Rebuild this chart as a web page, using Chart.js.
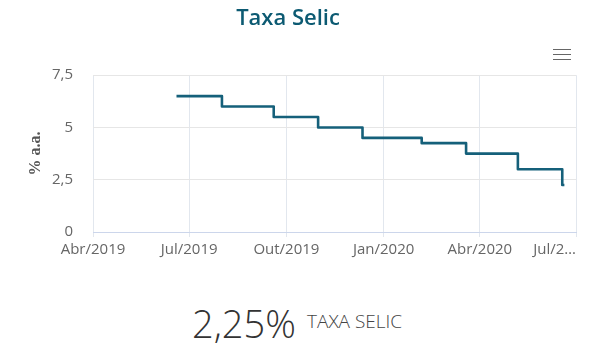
<!DOCTYPE html>
<html>
<head>
<meta charset="utf-8">
<script src="https://cdn.jsdelivr.net/npm/chart.js@4/dist/chart.umd.min.js"></script>
<style>
  html, body { margin: 0; padding: 0; background: #ffffff; }
  #wrap { position: relative; width: 598px; height: 357px; overflow: hidden; font-family: "Open Sans", sans-serif; }
  #c { position: absolute; left: 0; top: 0; }
  .menu { position: absolute; left: 553px; width: 18px; height: 1.4px; background: #666; }
  #big { position: absolute; left: 192px; top: 299px; font-size: 38px; font-weight: 300; color: #333; line-height: 48px; white-space: nowrap; }
  #small { position: absolute; left: 307px; top: 309px; font-size: 19px; font-weight: 300; color: #444; line-height: 24px; white-space: nowrap; }
</style>
</head>
<body>
<div id="wrap">
  <canvas id="c" width="598" height="266"></canvas>
  <div class="menu" style="top:48.5px"></div>
  <div class="menu" style="top:53.8px"></div>
  <div class="menu" style="top:59.1px"></div>
  <div id="big">2,25%</div>
  <div id="small">TAXA SELIC</div>
</div>
<script>
// ---- data ----
const changeDates = ['2019-06-19','2019-08-01','2019-09-19','2019-10-31','2019-12-12','2020-02-06','2020-03-19','2020-05-07','2020-06-18','2020-06-20'];
const selicRates  = [6.5, 6.0, 5.5, 5.0, 4.5, 4.25, 3.75, 3.0, 2.25, 2.25];
const tickDates   = ['2019-04-01','2019-07-01','2019-10-01','2020-01-01','2020-04-01','2020-07-01'];
const tickLabels  = ['Abr/2019','Jul/2019','Out/2019','Jan/2020','Abr/2020','Jul/2…'];
const yTicks      = [0, 2.5, 5, 7.5];

const origin = Date.UTC(2019, 3, 1);
function dayOf(s) {
  const p = s.split('-').map(Number);
  return (Date.UTC(p[0], p[1] - 1, p[2]) - origin) / 864e5;
}
const tickDays = tickDates.map(dayOf);
const points = changeDates.map((d, i) => ({ x: dayOf(d), y: selicRates[i] }));

const lastLabelRight = {
  id: 'lastLabelRight',
  beforeDraw(chart) {
    const sc = chart.scales.x;
    const items = sc.getLabelItems(chart.chartArea);
    if (items && items.length) {
      items[items.length - 1].options.textAlign = 'right';
    }
  }
};

new Chart(document.getElementById('c'), {
  type: 'line',
  data: {
    datasets: [{
      data: points,
      stepped: true,
      borderColor: '#15607a',
      borderWidth: 2.6,
      pointRadius: 0,
      fill: false,
      borderJoinStyle: 'round'
    }]
  },
  options: {
    responsive: false,
    devicePixelRatio: 1,
    animation: false,
    layout: { padding: { left: 0, right: 22, top: 0, bottom: 3 } },
    plugins: {
      legend: { display: false },
      tooltip: { enabled: false },
      title: {
        display: true,
        text: 'Taxa Selic',
        color: '#0c5a72',
        font: { family: 'Open Sans', size: 22, weight: '600' },
        padding: { top: 6, bottom: 42.8 }
      }
    },
    scales: {
      x: {
        type: 'linear',
        min: tickDays[0],
        max: tickDays[tickDays.length - 1],
        afterBuildTicks(scale) { scale.ticks = tickDays.map(v => ({ value: v })); },
        afterFit(scale) { scale.paddingRight = 0; scale.paddingLeft = 0; },
        ticks: {
          autoSkip: false,
          maxRotation: 0,
          padding: 4,
          color: '#666666',
          font: { family: 'Open Sans', size: 15 },
          callback(v, i) { return tickLabels[i]; }
        },
        grid: { color: '#e2e7ee', tickLength: 5, drawTicks: true, lineWidth: 1 },
        border: { color: '#ccd6eb', width: 1 }
      },
      y: {
        min: yTicks[0],
        max: yTicks[yTicks.length - 1],
        afterBuildTicks(scale) { scale.ticks = yTicks.map(v => ({ value: v })); },
        afterFit(scale) { scale.width = 93; },
        ticks: {
          padding: 20,
          color: '#666666',
          font: { family: 'Open Sans', size: 15 },
          callback(v) { return String(v).replace('.', ','); }
        },
        grid: { color: '#e6e6e6', drawTicks: false, lineWidth: 1 },
        border: { display: false },
        title: {
          display: true,
          text: '% a.a.',
          color: '#555555',
          font: { family: 'Liberation Serif', size: 16, weight: 'bold' },
          padding: { top: 26, bottom: 0 }
        }
      }
    }
  },
  plugins: [lastLabelRight]
});
</script>
</body>
</html>
